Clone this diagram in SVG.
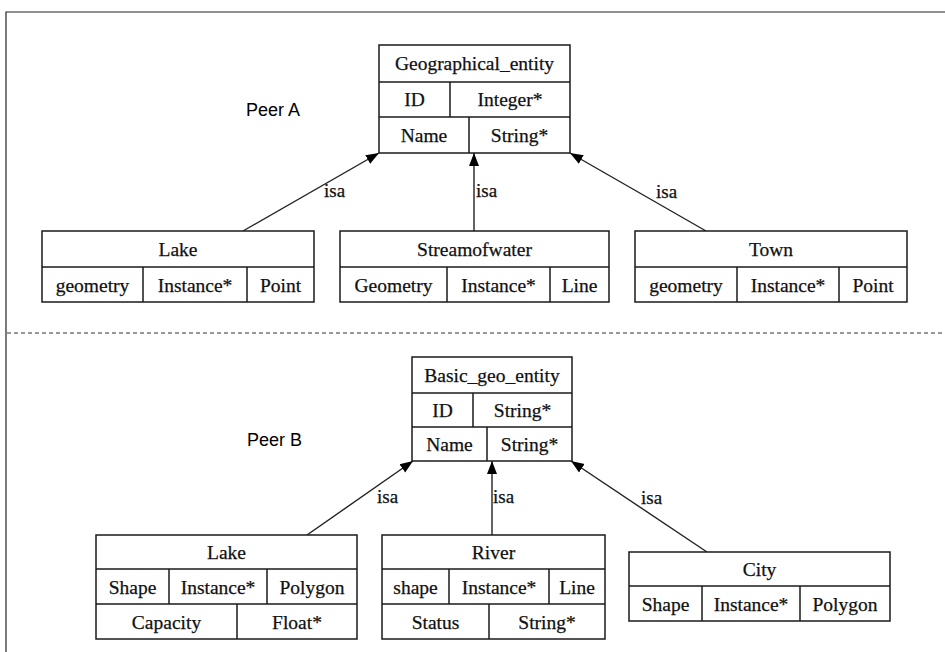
<svg xmlns="http://www.w3.org/2000/svg" width="945" height="652" viewBox="0 0 945 652">
  <style>
    .box { fill: #ffffff; stroke: #1a1a1a; stroke-width: 1.5; }
    .div { stroke: #1a1a1a; stroke-width: 1.5; }
    .t { font-family: "Liberation Serif", "Times New Roman", serif; font-size: 19.5px; fill: #111; text-anchor: middle; stroke: #111; stroke-width: 0.25; }
    .lbl { font-family: "Liberation Serif", "Times New Roman", serif; font-size: 19px; fill: #111; stroke: #111; stroke-width: 0.25; }
    .peer { font-family: "Liberation Sans", Arial, sans-serif; font-size: 18px; fill: #000; }
    .edge { stroke: #222; stroke-width: 1.4; fill: none; marker-end: url(#head); }
    .frame { stroke: #222; stroke-width: 1.2; fill: none; }
  </style>
  <defs>
    <marker id="head" markerUnits="userSpaceOnUse" markerWidth="14" markerHeight="12" refX="13" refY="6" orient="auto">
      <path d="M0,1 L13,6 L0,11 Z" fill="#000"/>
    </marker>
  </defs>

  <rect width="945" height="652" fill="#ffffff"/>

  <!-- page frame and separator -->
  <g id="frame">
    <path class="frame" d="M6,652 V12 H945"/>
    <line x1="7" y1="333" x2="945" y2="333" stroke="#333" stroke-width="1.2" stroke-dasharray="4 3"/>
  </g>

  <text class="peer" x="246" y="116">Peer A</text>
  <text class="peer" x="247" y="446">Peer B</text>

  <!-- connectors -->
  <g id="connectors">
    <line class="edge" x1="243" y1="231" x2="379" y2="153"/>
    <line class="edge" x1="474" y1="231" x2="474" y2="153"/>
    <line class="edge" x1="706" y1="231" x2="570" y2="153"/>
    <text class="lbl" x="324" y="197">isa</text>
    <text class="lbl" x="476" y="197">isa</text>
    <text class="lbl" x="656" y="198">isa</text>

    <line class="edge" x1="307" y1="535" x2="413" y2="461"/>
    <line class="edge" x1="492" y1="535" x2="492" y2="461"/>
    <line class="edge" x1="707" y1="552" x2="571" y2="461"/>
    <text class="lbl" x="377" y="503">isa</text>
    <text class="lbl" x="493" y="503">isa</text>
    <text class="lbl" x="641" y="504">isa</text>
  </g>

  <!-- Peer A -->
  <g id="geographical_entity">
    <rect class="box" x="379" y="45" width="191" height="108"/>
    <line class="div" x1="379" y1="82" x2="570" y2="82"/>
    <line class="div" x1="379" y1="117" x2="570" y2="117"/>
    <line class="div" x1="450" y1="82" x2="450" y2="117"/>
    <line class="div" x1="469" y1="117" x2="469" y2="153"/>
    <text class="t" x="474.5" y="70">Geographical_entity</text>
    <text class="t" x="414.5" y="106">ID</text>
    <text class="t" x="510" y="106">Integer*</text>
    <text class="t" x="424" y="142">Name</text>
    <text class="t" x="519.5" y="142">String*</text>
  </g>

  <g id="lake_a">
    <rect class="box" x="42" y="231" width="272" height="71"/>
    <line class="div" x1="42" y1="267" x2="314" y2="267"/>
    <line class="div" x1="143" y1="267" x2="143" y2="302"/>
    <line class="div" x1="247" y1="267" x2="247" y2="302"/>
    <text class="t" x="178" y="256">Lake</text>
    <text class="t" x="92.5" y="291.5">geometry</text>
    <text class="t" x="195" y="291.5">Instance*</text>
    <text class="t" x="280.5" y="291.5">Point</text>
  </g>

  <g id="streamofwater">
    <rect class="box" x="340" y="231" width="269" height="71"/>
    <line class="div" x1="340" y1="267" x2="609" y2="267"/>
    <line class="div" x1="447" y1="267" x2="447" y2="302"/>
    <line class="div" x1="550" y1="267" x2="550" y2="302"/>
    <text class="t" x="474.5" y="256">Streamofwater</text>
    <text class="t" x="393.5" y="291.5">Geometry</text>
    <text class="t" x="498.5" y="291.5">Instance*</text>
    <text class="t" x="579.5" y="291.5">Line</text>
  </g>

  <g id="town">
    <rect class="box" x="635" y="231" width="272" height="71"/>
    <line class="div" x1="635" y1="267" x2="907" y2="267"/>
    <line class="div" x1="737" y1="267" x2="737" y2="302"/>
    <line class="div" x1="839" y1="267" x2="839" y2="302"/>
    <text class="t" x="771" y="256">Town</text>
    <text class="t" x="686" y="291.5">geometry</text>
    <text class="t" x="788" y="291.5">Instance*</text>
    <text class="t" x="873" y="291.5">Point</text>
  </g>

  <!-- Peer B -->
  <g id="basic_geo_entity">
    <rect class="box" x="412" y="357" width="160" height="104"/>
    <line class="div" x1="412" y1="393" x2="572" y2="393"/>
    <line class="div" x1="412" y1="427" x2="572" y2="427"/>
    <line class="div" x1="473" y1="393" x2="473" y2="427"/>
    <line class="div" x1="487" y1="427" x2="487" y2="461"/>
    <text class="t" x="492" y="382">Basic_geo_entity</text>
    <text class="t" x="442.5" y="417">ID</text>
    <text class="t" x="522.5" y="417">String*</text>
    <text class="t" x="449.5" y="451">Name</text>
    <text class="t" x="529.5" y="451">String*</text>
  </g>

  <g id="lake_b">
    <rect class="box" x="96" y="535" width="261" height="104"/>
    <line class="div" x1="96" y1="569" x2="357" y2="569"/>
    <line class="div" x1="96" y1="604" x2="357" y2="604"/>
    <line class="div" x1="169" y1="569" x2="169" y2="604"/>
    <line class="div" x1="267" y1="569" x2="267" y2="604"/>
    <line class="div" x1="237" y1="604" x2="237" y2="639"/>
    <text class="t" x="226.5" y="559">Lake</text>
    <text class="t" x="132.5" y="593.5">Shape</text>
    <text class="t" x="218" y="593.5">Instance*</text>
    <text class="t" x="312" y="593.5">Polygon</text>
    <text class="t" x="166.5" y="628.5">Capacity</text>
    <text class="t" x="297" y="628.5">Float*</text>
  </g>

  <g id="river">
    <rect class="box" x="382" y="535" width="223" height="104"/>
    <line class="div" x1="382" y1="569" x2="605" y2="569"/>
    <line class="div" x1="382" y1="604" x2="605" y2="604"/>
    <line class="div" x1="449" y1="569" x2="449" y2="604"/>
    <line class="div" x1="549" y1="569" x2="549" y2="604"/>
    <line class="div" x1="489" y1="604" x2="489" y2="639"/>
    <text class="t" x="493.5" y="559">River</text>
    <text class="t" x="415.5" y="593.5">shape</text>
    <text class="t" x="499" y="593.5">Instance*</text>
    <text class="t" x="577" y="593.5">Line</text>
    <text class="t" x="435.5" y="628.5">Status</text>
    <text class="t" x="547" y="628.5">String*</text>
  </g>

  <g id="city">
    <rect class="box" x="629" y="552" width="261" height="69"/>
    <line class="div" x1="629" y1="586" x2="890" y2="586"/>
    <line class="div" x1="702" y1="586" x2="702" y2="621"/>
    <line class="div" x1="800" y1="586" x2="800" y2="621"/>
    <text class="t" x="759.5" y="576">City</text>
    <text class="t" x="665.5" y="610.5">Shape</text>
    <text class="t" x="751" y="610.5">Instance*</text>
    <text class="t" x="845" y="610.5">Polygon</text>
  </g>
</svg>
